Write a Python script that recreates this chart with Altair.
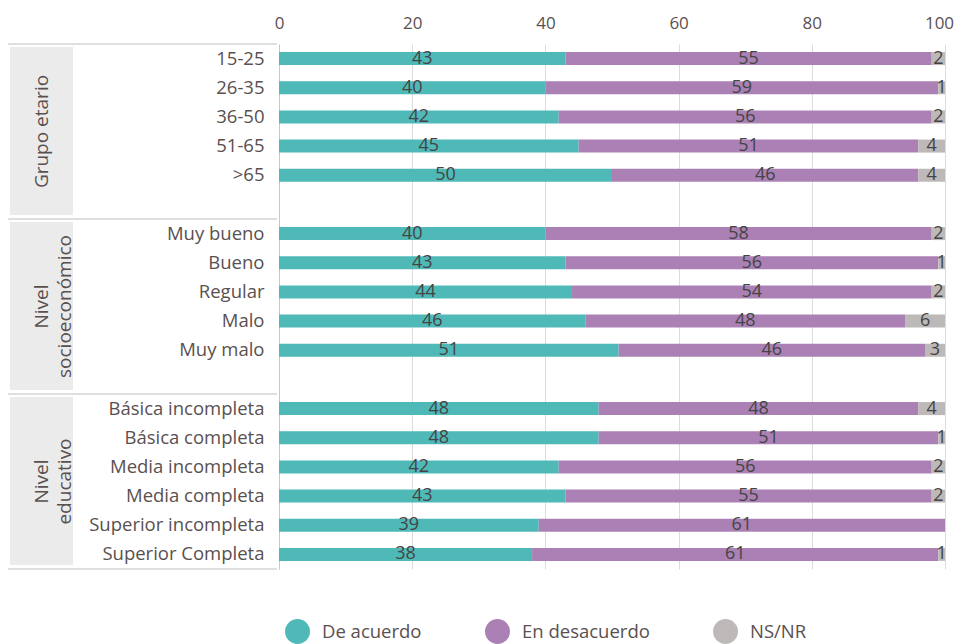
import altair as alt
import pandas as pd

grupo = ["15-25", "26-35", "36-50", "51-65", ">65"]
nse = ["Muy bueno", "Bueno", "Regular", "Malo", "Muy malo"]
edu = ["Básica incompleta", "Básica completa", "Media incompleta",
       "Media completa", "Superior incompleta", "Superior Completa"]
categorias = grupo + nse + edu

acuerdo = [43, 40, 42, 45, 50, 40, 43, 44, 46, 51, 48, 48, 42, 43, 39, 38]
desacuerdo = [55, 59, 56, 51, 46, 58, 56, 54, 48, 46, 48, 51, 56, 55, 61, 61]
nsnr = [2, 1, 2, 4, 4, 2, 1, 2, 6, 3, 4, 1, 2, 2, 0, 1]

respuestas = ["De acuerdo", "En desacuerdo", "NS/NR"]
colores = ["#4fb9b8", "#ab81b5", "#bdb9b8"]

grupos = ["Grupo etario", "Nivel\nsocioeconómico", "Nivel\neducativo"]
grupo_inicio = [0, 6, 12]
grupo_fin = [6, 12, 18]

y_domain = grupo + [" "] + nse + ["  "] + edu

FONT = "Open Sans"
TXT = "#5a5050"

rows = []
for i, c in enumerate(categorias):
    for j, (r, v) in enumerate(zip(respuestas, [acuerdo[i], desacuerdo[i], nsnr[i]])):
        rows.append({"cat": c, "resp": r, "value": v, "ord": j})
df = pd.DataFrame(rows)

gdf = pd.DataFrame({"g": grupos, "s": grupo_inicio, "e": grupo_fin})
sep = pd.DataFrame({"pos": [0, 6, 12, 18]})

yscale = alt.Scale(domain=y_domain, paddingInner=0, paddingOuter=0)
yenc = alt.Y("cat:N", scale=yscale,
             axis=alt.Axis(title=None, ticks=False, domainColor="#c8c8c8", labelPadding=15,
                           labelFontSize=18.5, labelLimit=400, grid=False))

base = alt.Chart(df).transform_stack(
    stack="value", groupby=["cat"], sort=[alt.SortField("ord")], as_=["x0", "x1"]
).transform_calculate(mid="(datum.x0 + datum.x1) / 2")

bars = base.mark_bar(size=13).encode(
    y=yenc,
    x=alt.X("x0:Q", scale=alt.Scale(domain=[0, 100], nice=False),
            axis=alt.Axis(orient="top", values=[0, 20, 40, 60, 80, 100], domain=False,
                          ticks=False, title=None, labelPadding=12, labelFontSize=17,
                          labelFlush=False, gridColor="#dcdcdc",
                          labelOffset={"condition": {"test": "datum.value == 100", "value": -6},
                                       "value": 0})),
    x2="x1:Q",
    color=alt.Color("resp:N", scale=alt.Scale(domain=respuestas, range=colores),
                    legend=alt.Legend(title=None, orient="none", direction="horizontal",
                                      legendX=6, legendY=575, symbolType="circle",
                                      symbolSize=625, symbolStrokeWidth=0,
                                      labelFontSize=18.5, labelOffset=12,
                                      columnPadding=63)),
)

labels = base.transform_filter("datum.value > 0").mark_text(
    fontSize=18, color="#444444", font=FONT
).encode(y=alt.Y("cat:N", scale=yscale, axis=None), x="mid:Q", text="value:Q")

yq = alt.Y("y:Q", scale=alt.Scale(domain=[18, 0], nice=False, zero=False), axis=None)

boxes = alt.Chart(gdf).mark_rect(color="#ebebeb", yOffset=3, y2Offset=-4).encode(
    y=alt.Y("s:Q", scale=alt.Scale(domain=[18, 0], nice=False, zero=False), axis=None),
    y2="e:Q",
    x=alt.value(-269), x2=alt.value(-206),
)

gtext = alt.Chart(gdf).transform_calculate(y="(datum.s + datum.e) / 2").mark_text(
    angle=270, fontSize=19, color=TXT, font=FONT, lineBreak="\n", lineHeight=23,
    baseline="middle", align="center"
).encode(y=yq, x=alt.value(-237.5), text="g:N")

rules = alt.Chart(sep).mark_rule(color="#d4d4d4", strokeWidth=1.5).encode(
    y=alt.Y("pos:Q", scale=alt.Scale(domain=[18, 0], nice=False, zero=False), axis=None),
    x=alt.value(-271), x2=alt.value(-2),
)

chart = alt.layer(boxes, gtext, rules, bars, labels).resolve_scale(y="independent").properties(
    width=666, height=525,
    autosize=alt.AutoSizeParams(type="none"),
    padding={"left": 271, "top": 36, "right": 10, "bottom": 76},
).configure_view(stroke=None).configure_axis(
    labelFont=FONT, labelColor=TXT
).configure_legend(labelFont=FONT, labelColor=TXT).configure_text(font=FONT)

chart.save("out.html", embed_options={"renderer": "svg", "actions": False})
